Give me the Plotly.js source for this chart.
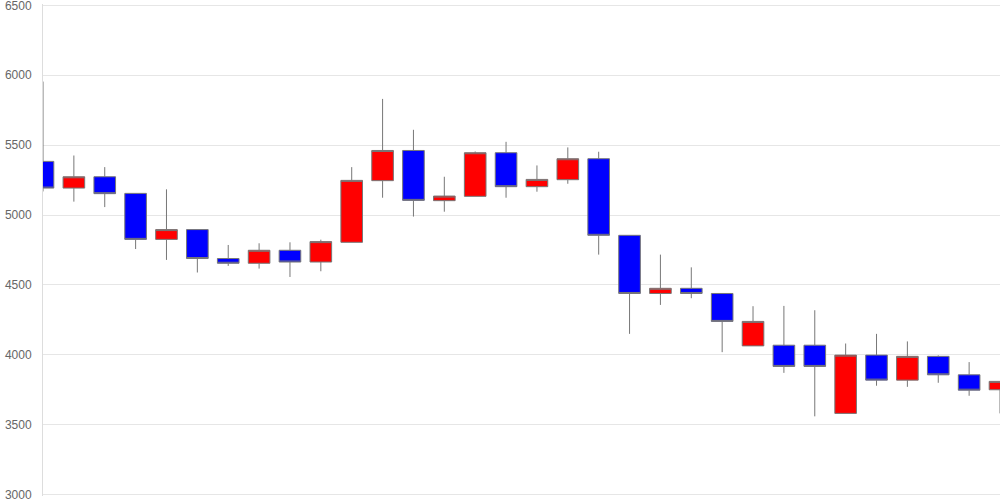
<!DOCTYPE html>
<html>
<head>
<meta charset="utf-8">
<script src="https://cdn.plot.ly/plotly-3.0.1.min.js"></script>
<style>
html,body{margin:0;padding:0;background:#fff;}
#chart{width:1000px;height:500px;}
</style>
</head>
<body>
<div id="chart"></div>
<script>
var days  = [0,1,2,3,4,5,6,7,8,9,10,11,12,13,14,15,16,17,18,19,20,21,22,23,24,25,26,27,28,29,30,31];
var open  = [5384,5193,5274,5155,4826,4896,4689,4655,4748,4664,4805,5246,5462,5103,5134,5446,5203,5253,5403,4855,4439,4476,4439,4064,4069,4069,3581,3998,3819,3989,3857,3750];
var high  = [5955,5426,5343,5155,5184,4896,4786,4798,4805,4824,5343,5831,5610,5274,5455,5524,5355,5484,5453,4855,4717,4626,4439,4348,4350,4319,4081,4150,4096,3996,3948,3810];
var low   = [5169,5096,5057,4757,4679,4589,4636,4617,4557,4598,4805,5124,4989,5024,5134,5124,5167,5224,4717,4150,4357,4405,4019,4064,3871,3560,3581,3779,3771,3800,3707,3581];
var close = [5193,5274,5153,4826,4896,4689,4655,4748,4664,4810,5248,5462,5105,5136,5446,5203,5255,5403,4855,4439,4476,4439,4239,4239,3917,3917,3998,3819,3989,3857,3747,3810];
var yTicks = [3000,3500,4000,4500,5000,5500,6000,6500];

var trace = {
  type: 'candlestick',
  x: days, open: open, high: high, low: low, close: close,
  increasing: {fillcolor: '#ff0000', line: {color: '#777777', width: 1}},
  decreasing: {fillcolor: '#0000ff', line: {color: '#777777', width: 1}},
  whiskerwidth: 0,
  hoverinfo: 'none'
};

var layout = {
  width: 1000, height: 500,
  margin: {l: 43, r: 0, t: 4, b: 4},
  paper_bgcolor: '#ffffff', plot_bgcolor: '#ffffff',
  showlegend: false,
  boxgap: 0.3, boxgroupgap: 0,
  font: {family: '"Liberation Sans", Arial, sans-serif', size: 12, color: '#666666'},
  xaxis: {
    range: [0, 31], showticklabels: false, showgrid: false, zeroline: false,
    showline: false, ticks: '', rangeslider: {visible: false}, type: 'linear', fixedrange: true
  },
  yaxis: {
    range: [2990, 6510], tickvals: yTicks, ticktext: yTicks.map(String),
    showgrid: true, gridcolor: '#e6e6e6', gridwidth: 1, zeroline: false,
    showline: true, linecolor: '#dddddd', linewidth: 1, ticks: '',
    ticklabelstandoff: 8, ticklabeloverflow: 'allow',
    tickfont: {size: 12, color: '#666666'}, fixedrange: true
  }
};

Plotly.newPlot('chart', [trace], layout, {staticPlot: true, displayModeBar: false});
</script>
</body>
</html>
